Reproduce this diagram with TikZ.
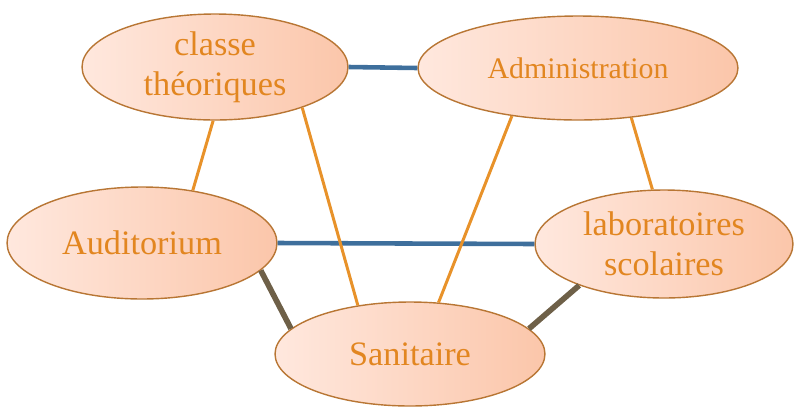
\documentclass[tikz,border=0pt]{standalone}
\usepackage{fontspec}
\setmainfont{Liberation Serif}
\usetikzlibrary{shapes.geometric}
\definecolor{txtorange}{RGB}{226,134,32}
\definecolor{linkorange}{RGB}{232,146,42}
\definecolor{linkblue}{RGB}{62,111,156}
\definecolor{linkbrown}{RGB}{110,96,72}
\definecolor{roomedge}{RGB}{184,118,52}
\definecolor{roomleft}{RGB}{255,232,222}
\definecolor{roomright}{RGB}{251,198,170}
\begin{document}
\begin{tikzpicture}[x=0.02cm, y=-0.02cm,
    room/.style={ellipse, draw=roomedge, line width=0.8pt, left color=roomleft, right color=roomright,
      text=txtorange, align=center, inner sep=0pt, font=\fontsize{19.5}{22.7}\selectfont},
    orangelink/.style={draw=linkorange, line width=1.7pt},
    bluelink/.style={draw=linkblue, line width=2.6pt},
    brownlink/.style={draw=linkbrown, line width=3.2pt}]
    \useasboundingbox (0,0) rectangle (795,407);
    \node[room, minimum width=5.32cm, minimum height=2.12cm] (cls) at (215,67) {classe\\théoriques};
    \node[room, minimum width=6.4cm, minimum height=2.08cm, font=\fontsize{17}{20}\selectfont] (adm) at (578,68) {Administration};
    \node[room, minimum width=5.4cm, minimum height=2.24cm] (aud) at (142,243) {Auditorium};
    \node[room, minimum width=5.16cm, minimum height=2.16cm] (lab) at (664,244) {laboratoires\\scolaires};
    \node[room, minimum width=5.4cm, minimum height=2.08cm] (san) at (410,354) {Sanitaire};
    \draw[bluelink] (cls.east) -- (adm.west);
    \draw[bluelink] (aud.east) -- (lab.west);
    \draw[orangelink] (cls.-92) -- (aud.46);
    \draw[orangelink] (cls.-25) -- (san.137);
    \draw[orangelink] (adm.216) -- (san.61);
    \draw[orangelink] (adm.-43) -- (lab.102);
    \draw[brownlink] (aud.-13) -- (san.168);
    \draw[brownlink] (lab.206) -- (san.12);
\end{tikzpicture}
\end{document}
